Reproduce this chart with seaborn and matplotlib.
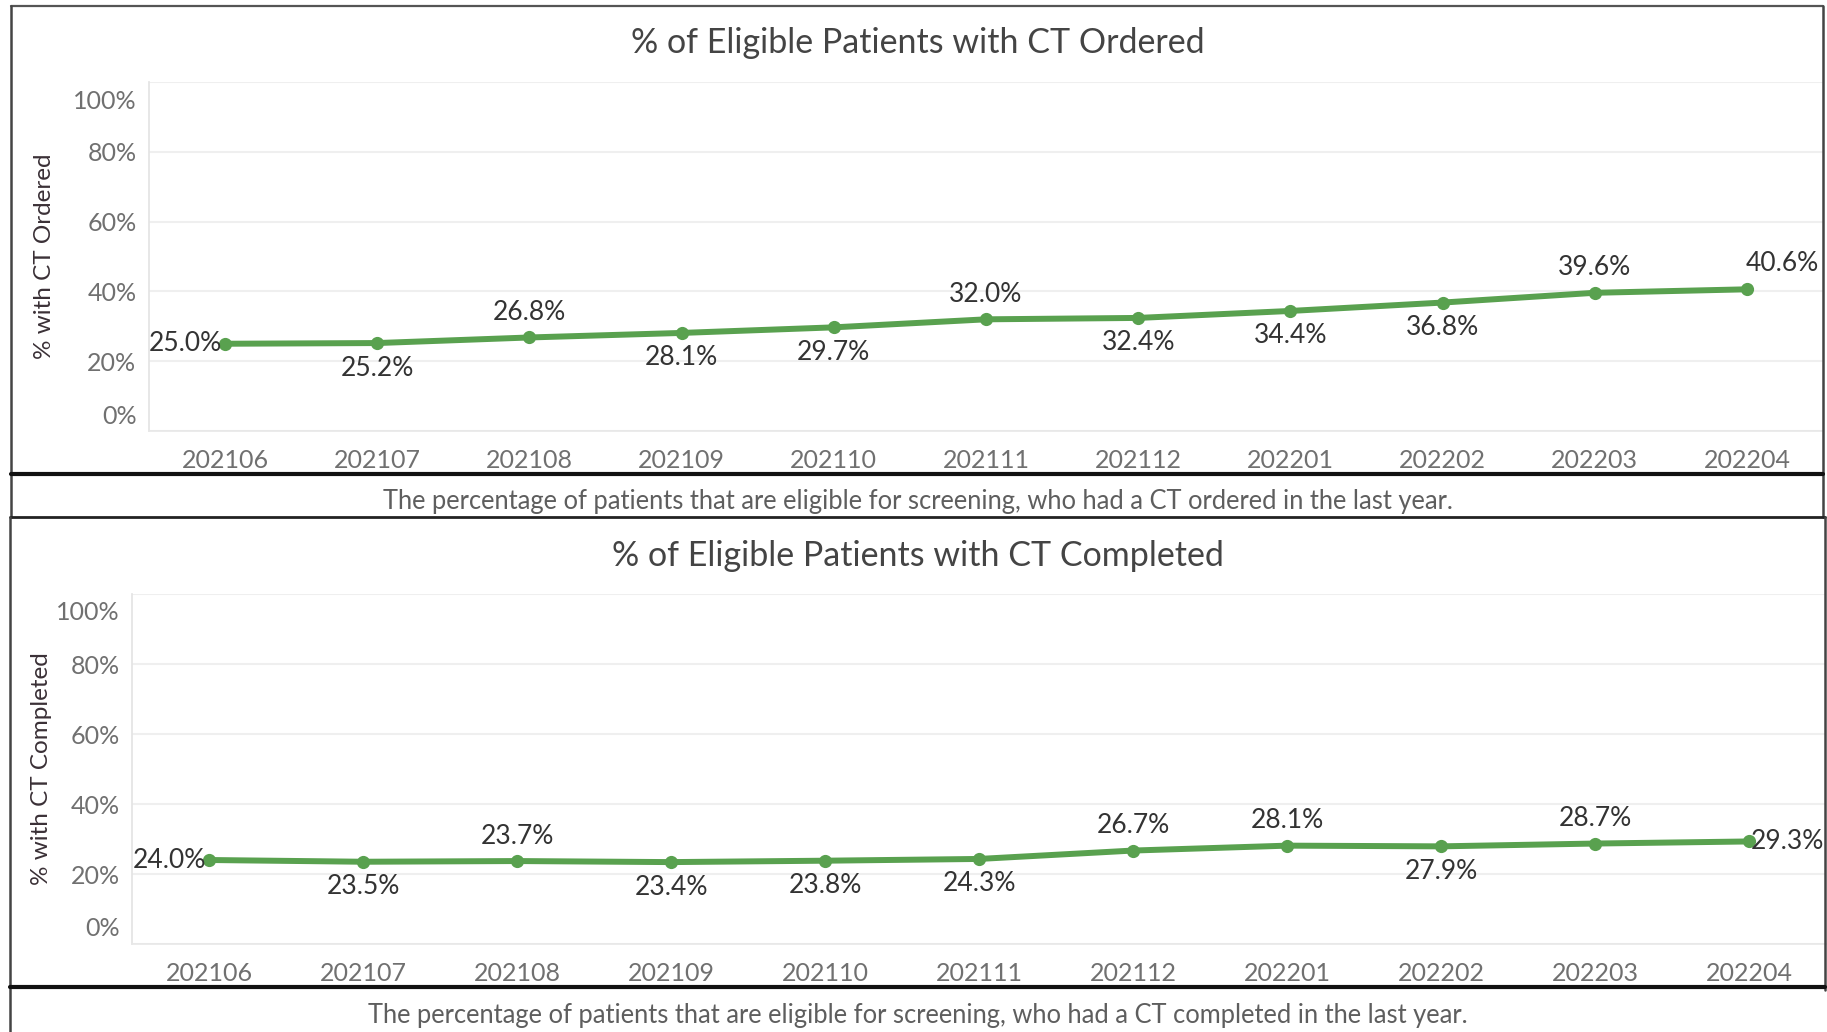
import numpy as np
import matplotlib
matplotlib.use("Agg")
import matplotlib.pyplot as plt
import seaborn as sns
from matplotlib.lines import Line2D
from matplotlib.transforms import ScaledTranslation

# Datos
months = ["202106", "202107", "202108", "202109", "202110", "202111",
          "202112", "202201", "202202", "202203", "202204"]
pct_ordered = [25.0, 25.2, 26.8, 28.1, 29.7, 32.0, 32.4, 34.4, 36.8, 39.6, 40.6]
pct_completed = [24.0, 23.5, 23.7, 23.4, 23.8, 24.3, 26.7, 28.1, 27.9, 28.7, 29.3]
y_ticks = [0, 20, 40, 60, 80, 100]
y_tick_labels = ["0%", "20%", "40%", "60%", "80%", "100%"]

title_ordered = "% of Eligible Patients with CT Ordered"
title_completed = "% of Eligible Patients with CT Completed"
ylabel_ordered = "% with CT Ordered"
ylabel_completed = "% with CT Completed"
caption_ordered = "The percentage of patients that are eligible for screening, who had a CT ordered in the last year."
caption_completed = "The percentage of patients that are eligible for screening, who had a CT completed in the last year."

# donde va cada etiqueta respecto al punto
place_ordered = ["left", "below", "above", "below", "below", "above",
                 "below", "below", "below", "above", "above_right"]
place_completed = ["left", "below", "above", "below", "below", "below",
                   "above", "above", "below", "above", "right"]

W, H = 1827, 1032
GREEN = "#59a14f"

sns.set_theme(style="white")
plt.rcParams["font.family"] = ["Lato", "DejaVu Sans"]

fig = plt.figure(figsize=(W / 100, H / 100), dpi=100)


def px_box(left, top, right, bottom):
    return [left / W, 1 - bottom / H, (right - left) / W, (bottom - top) / H]


def hline(x0, x1, y, color, lw):
    fig.add_artist(Line2D([x0 / W, x1 / W], [1 - y / H, 1 - y / H], color=color, lw=lw))


def vline(x, y0, y1, color, lw):
    fig.add_artist(Line2D([x / W, x / W], [1 - y0 / H, 1 - y1 / H], color=color, lw=lw))


def draw_panel(ax, values, places, ylabel, ylabel_x):
    sns.lineplot(x=months, y=values, ax=ax, sort=False, color=GREEN, linewidth=4.3,
                 marker="o", markersize=9.5, markeredgewidth=0)
    ax.set_xlim(-0.5, len(months) - 0.5)
    ax.set_ylim(0, 100)
    ax.set_yticks(y_ticks)
    ax.set_yticklabels(y_tick_labels)
    ax.set_xlabel("")
    ax.set_ylabel(ylabel, fontsize=17.5, color="#3a3036")
    ax.yaxis.set_label_coords(ylabel_x, 0.5)

    ax.grid(axis="y", color="#efefef", lw=1.5)
    ax.grid(axis="x", visible=False)
    for s in ["top", "right"]:
        ax.spines[s].set_visible(False)
    ax.spines["left"].set_color("#e4e4e4")
    ax.spines["bottom"].set_color("#e8e8e8")

    ax.set_xticks(np.arange(-0.5, len(months), 1), minor=True)
    ax.tick_params(axis="x", which="major", length=0, pad=13, labelsize=18, labelcolor="#707070")
    ax.tick_params(axis="x", which="minor", length=7, width=1, color="#e4e4e4")
    ax.tick_params(axis="y", length=0, pad=9, labelsize=18, labelcolor="#707070")

    # etiquetas de 0% y 100% hacia dentro, como en Tableau
    ticks = ax.yaxis.get_major_ticks()
    ticks[0].label1.set_transform(ticks[0].label1.get_transform()
                                  + ScaledTranslation(0, 0.17, fig.dpi_scale_trans))
    ticks[-1].label1.set_transform(ticks[-1].label1.get_transform()
                                   + ScaledTranslation(0, -0.17, fig.dpi_scale_trans))

    for i, (v, p) in enumerate(zip(values, places)):
        if p == "above":
            dx, dy, ha = 0, 25, "center"
        elif p == "below":
            dx, dy, ha = 0, -25, "center"
        elif p == "left":
            dx, dy, ha = -3, 0, "right"
        elif p == "right":
            dx, dy, ha = 2, 0, "left"
        else:
            dx, dy, ha = -1, 26, "left"
        ax.annotate(f"{v:.1f}%", xy=(i, v), xytext=(dx, dy), textcoords="offset pixels",
                    ha=ha, va="center", fontsize=19, color="#333333")


ax1 = fig.add_axes(px_box(149, 82, 1823, 431))
draw_panel(ax1, pct_ordered, place_ordered, ylabel_ordered, -0.056)

ax2 = fig.add_axes(px_box(132, 594, 1826, 944))
draw_panel(ax2, pct_completed, place_completed, ylabel_completed, -0.047)

# titulos y pies
fig.text(918 / W, 1 - 43 / H, title_ordered, ha="center", va="center", fontsize=24.5, color="#444444")
fig.text(918 / W, 1 - 556 / H, title_completed, ha="center", va="center", fontsize=24.5, color="#444444")
fig.text(918 / W, 1 - 502 / H, caption_ordered, ha="center", va="center", fontsize=18.4, color="#5e5e5e")
fig.text(918 / W, 1 - 1015 / H, caption_completed, ha="center", va="center", fontsize=18.4, color="#5e5e5e")

# marcos del dashboard
hline(11, 1823, 6, "#555555", 1.6)
vline(11, 6, 517, "#444444", 1.8)
vline(1823, 6, 517, "#444444", 1.8)
hline(11, 1823, 474, "#111111", 3.0)
hline(10, 1825, 517, "#222222", 2.0)
vline(10, 517, 1032, "#444444", 1.8)
vline(1825, 517, 990, "#444444", 1.8)
hline(10, 1825, 987, "#111111", 3.0)

fig.savefig("out.png", dpi=100)
